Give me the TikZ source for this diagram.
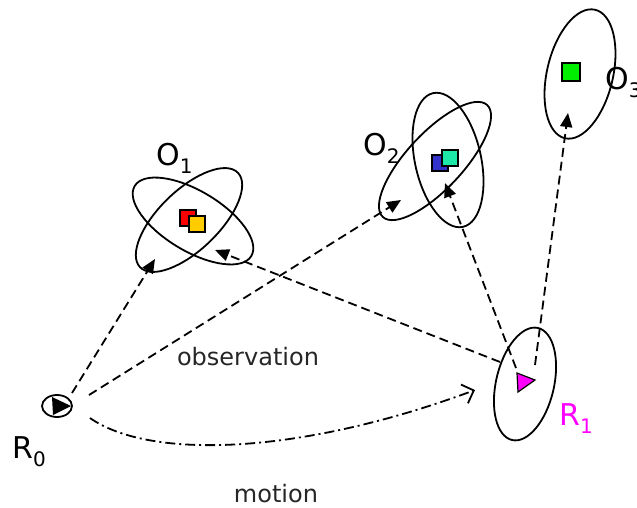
\documentclass[tikz,border=0pt]{standalone}
\usepackage{fontspec}
\setmainfont{DejaVu Sans}
\usetikzlibrary{shapes.geometric,arrows.meta}
\newcommand\subtag[2]{#1\raisebox{-8pt}{\fontsize{20}{20}\selectfont #2}}
\definecolor{objred}{HTML}{FF0000}
\definecolor{objyellow}{HTML}{FFCC00}
\definecolor{objblue}{HTML}{3333CC}
\definecolor{objteal}{HTML}{1EE8A8}
\definecolor{objgreen}{HTML}{00EE00}
\definecolor{posemag}{HTML}{FF00FF}
\begin{document}
\begin{tikzpicture}[x=1pt,y=-1pt,
  unc/.style={draw,ellipse,line width=1.8pt,inner sep=0pt},
  obj/.style={draw,line width=1.2pt,minimum size=16pt,inner sep=0pt},
  lbl/.style={anchor=base west,inner sep=0pt,font=\fontsize{30}{34}\selectfont},
  txt/.style={font=\fontsize{24}{28}\selectfont,text=black!85},
  obs/.style={line width=1.8pt,dash pattern=on 9pt off 5pt,
    -{Triangle[length=14pt,width=12pt]}},
  mot/.style={line width=1.8pt,dash pattern=on 10pt off 4pt on 2pt off 4pt,
    -{Straight Barb[length=10pt,width=20pt,line width=1.8pt]}}]
\useasboundingbox (0,0) rectangle (637,508);
\clip (0,0) rectangle (637,508);

% robot pose R0
\node[unc,minimum width=30pt,minimum height=22pt] (r0) at (57,406) {};
\fill (52,397) -- (53,415) -- (71,406) -- cycle;
\node[lbl] (r0lbl) at (12,458) {\subtag{R}{0}};

% robot pose R1
\node[unc,minimum width=115pt,minimum height=58pt,rotate=77] (r1) at (525,384) {};
\filldraw[fill=posemag,draw=black,line width=1.2pt] (517,373) -- (518,392) -- (535,380) -- cycle;
\node[lbl,text=posemag] (r1lbl) at (559,425) {\subtag{R}{1}};

% object O1
\node[unc,minimum width=136pt,minimum height=60pt,rotate=-31] (o1a) at (193,221) {};
\node[unc,minimum width=136pt,minimum height=60pt,rotate=44] (o1b) at (189,220) {};
\node[obj,fill=objred] (o1r) at (188,218) {};
\node[obj,fill=objyellow] (o1y) at (197,224) {};
\node[lbl] (o1lbl) at (156,165) {\subtag{O}{1}};

% object O2
\node[unc,minimum width=137pt,minimum height=66pt,rotate=102.6] (o2a) at (448,160) {};
\node[unc,minimum width=153pt,minimum height=56pt,rotate=47] (o2b) at (435,161) {};
\node[obj,fill=objblue] (o2b1) at (440,163) {};
\node[obj,fill=objteal] (o2t) at (450,158) {};
\node[lbl] (o2lbl) at (363,155) {\subtag{O}{2}};

% object O3
\node[unc,minimum width=132pt,minimum height=66pt,rotate=76.8] (o3) at (580,74) {};
\node[obj,fill=objgreen,minimum size=18pt] (o3g) at (571,72) {};
\node[lbl] (o3lbl) at (605,90) {\subtag{O}{3}};

% observation rays: start and end points
\coordinate (s1) at (72,393);   \coordinate (e1) at (155,259);
\coordinate (s2) at (89,395);   \coordinate (e2) at (401,200);
\coordinate (s3) at (500,362);  \coordinate (e3) at (215,250);
\coordinate (s4) at (516,368);  \coordinate (e4) at (445,183);
\coordinate (s5) at (535,365);  \coordinate (e5) at (568,113);
\draw[obs] (s1) -- (e1);
\draw[obs] (s2) -- (e2);
\draw[obs] (s3) -- (e3);
\draw[obs] (s4) -- (e4);
\draw[obs] (s5) -- (e5);

% motion from R0 to R1
\coordinate (m0) at (90,418);
\coordinate (m1) at (475,390);
\draw[mot] (m0) .. controls (150,460) and (300,455) .. (m1);

\node[txt] (obstxt) at (248,357) {observation};
\node[txt] (mottxt) at (276,494) {motion};
\end{tikzpicture}
\end{document}
